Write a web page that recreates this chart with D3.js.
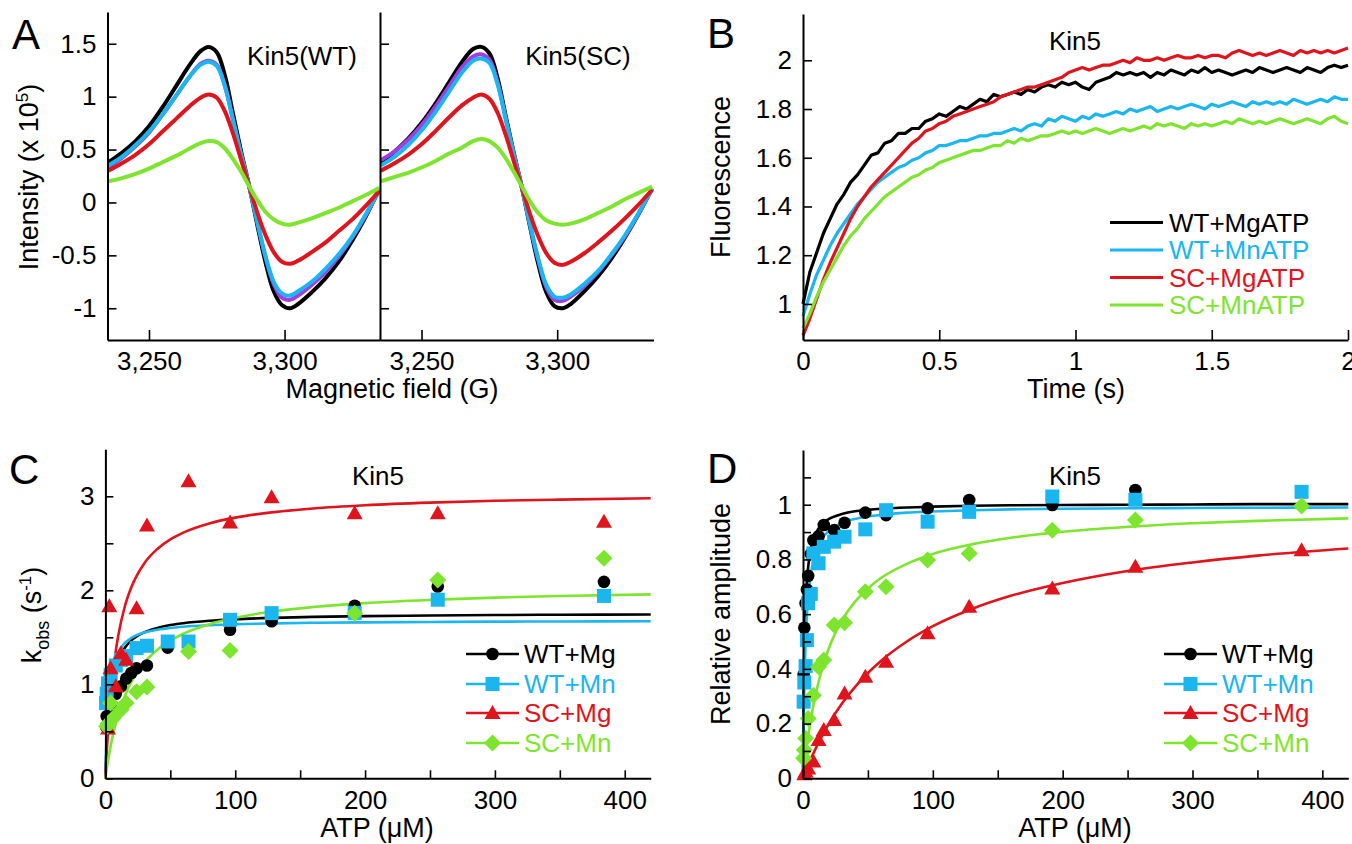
<!DOCTYPE html>
<html>
<head>
<meta charset="utf-8">
<script src="https://cdn.jsdelivr.net/npm/d3@7"></script>
<style>
  body { margin: 0; background: #fff; }
  svg { display: block; }
  text { font-family: "Liberation Sans", Arial, sans-serif; font-size: 26px; }
</style>
</head>
<body>
<svg id="fig" width="1352" height="844"></svg>
<script>
// ---------- colours ----------
var black = "#000000", cyan = "#1ab6ef", red = "#e0141c", green = "#7ee52e", purple = "#a23ee0";

// ---------- panel A : EPR spectra ----------
var fieldA = [3235, 3240, 3245, 3250, 3255, 3260, 3265, 3269, 3272, 3275, 3278, 3281, 3284, 3287, 3290, 3293, 3296, 3299, 3302, 3305, 3310, 3315, 3320, 3325, 3330, 3335];
var wtBlack  = [0.38, 0.47, 0.58, 0.72, 0.90, 1.10, 1.30, 1.43, 1.47, 1.42, 1.20, 0.84, 0.48, 0.15, -0.22, -0.57, -0.84, -0.97, -1.00, -0.96, -0.85, -0.72, -0.56, -0.36, -0.13, 0.13];
var wtPurple = [0.33, 0.42, 0.53, 0.66, 0.83, 1.01, 1.19, 1.31, 1.34, 1.30, 1.10, 0.78, 0.45, 0.15, -0.19, -0.52, -0.77, -0.90, -0.92, -0.88, -0.78, -0.66, -0.51, -0.33, -0.12, 0.12];
var wtCyan   = [0.35, 0.43, 0.54, 0.67, 0.83, 1.01, 1.19, 1.30, 1.33, 1.29, 1.10, 0.78, 0.45, 0.15, -0.19, -0.51, -0.75, -0.86, -0.88, -0.84, -0.75, -0.63, -0.49, -0.32, -0.11, 0.12];
var wtRed    = [0.30, 0.37, 0.45, 0.55, 0.67, 0.79, 0.91, 0.99, 1.02, 0.99, 0.86, 0.65, 0.40, 0.15, -0.10, -0.31, -0.47, -0.56, -0.58, -0.55, -0.47, -0.38, -0.27, -0.16, -0.03, 0.11];
var wtGreen  = [0.20, 0.23, 0.27, 0.32, 0.38, 0.44, 0.51, 0.56, 0.58, 0.57, 0.51, 0.41, 0.29, 0.15, 0.02, -0.09, -0.16, -0.20, -0.21, -0.19, -0.15, -0.10, -0.05, 0.01, 0.07, 0.14];
var scBlack  = [0.38, 0.48, 0.60, 0.75, 0.93, 1.13, 1.33, 1.45, 1.47, 1.41, 1.18, 0.82, 0.47, 0.14, -0.23, -0.58, -0.85, -0.98, -1.00, -0.96, -0.84, -0.70, -0.53, -0.33, -0.11, 0.13];
var scPurple = [0.40, 0.48, 0.59, 0.73, 0.90, 1.09, 1.28, 1.38, 1.40, 1.35, 1.14, 0.80, 0.46, 0.14, -0.21, -0.54, -0.80, -0.92, -0.93, -0.89, -0.79, -0.66, -0.50, -0.32, -0.11, 0.13];
var scCyan   = [0.35, 0.43, 0.54, 0.68, 0.85, 1.04, 1.23, 1.34, 1.36, 1.32, 1.12, 0.79, 0.45, 0.14, -0.21, -0.53, -0.78, -0.89, -0.90, -0.87, -0.77, -0.65, -0.49, -0.31, -0.10, 0.13];
var scRed    = [0.30, 0.37, 0.45, 0.55, 0.67, 0.80, 0.92, 0.99, 1.02, 0.98, 0.85, 0.64, 0.39, 0.14, -0.11, -0.32, -0.48, -0.57, -0.59, -0.56, -0.48, -0.38, -0.27, -0.15, -0.02, 0.12];
var scGreen  = [0.20, 0.24, 0.28, 0.33, 0.39, 0.46, 0.52, 0.58, 0.60, 0.58, 0.52, 0.42, 0.29, 0.15, 0.01, -0.10, -0.17, -0.20, -0.21, -0.20, -0.16, -0.10, -0.04, 0.03, 0.09, 0.15];

// ---------- panel B : stopped-flow traces (one value every 0.025 s) ----------
var traceStep = 0.025;
var bWtMg = [1.00, 1.13, 1.21, 1.29, 1.35, 1.41, 1.45, 1.50, 1.53, 1.57,
             1.61, 1.62, 1.66, 1.67, 1.70, 1.70, 1.72, 1.72, 1.75, 1.76,
             1.78, 1.77, 1.79, 1.81, 1.80, 1.82, 1.84, 1.83, 1.86, 1.85,
             1.86, 1.87, 1.86, 1.88, 1.87, 1.89, 1.90, 1.89, 1.91, 1.90,
             1.91, 1.89, 1.88, 1.91, 1.92, 1.93, 1.95, 1.94, 1.95, 1.94,
             1.95, 1.93, 1.95, 1.94, 1.96, 1.95, 1.94, 1.96, 1.95, 1.97,
             1.95, 1.96, 1.95, 1.94, 1.95, 1.96, 1.95, 1.97, 1.96, 1.95,
             1.96, 1.97, 1.96, 1.95, 1.97, 1.96, 1.95, 1.97, 1.98, 1.97,
             1.98];
var bWtMn = [0.95, 1.04, 1.12, 1.18, 1.24, 1.29, 1.33, 1.37, 1.41, 1.44,
             1.47, 1.50, 1.52, 1.54, 1.56, 1.57, 1.59, 1.60, 1.62, 1.63,
             1.65, 1.65, 1.66, 1.67, 1.67, 1.68, 1.69, 1.69, 1.70, 1.70,
             1.71, 1.72, 1.71, 1.73, 1.74, 1.73, 1.76, 1.75, 1.77, 1.76,
             1.75, 1.77, 1.76, 1.78, 1.77, 1.78, 1.79, 1.78, 1.80, 1.79,
             1.80, 1.81, 1.79, 1.80, 1.81, 1.80, 1.81, 1.82, 1.81, 1.80,
             1.82, 1.81, 1.82, 1.83, 1.82, 1.81, 1.83, 1.82, 1.83, 1.82,
             1.83, 1.82, 1.84, 1.83, 1.82, 1.83, 1.84, 1.83, 1.85, 1.84,
             1.84];
var bScMg = [0.87, 0.94, 1.02, 1.10, 1.17, 1.23, 1.29, 1.35, 1.40, 1.44,
             1.48, 1.51, 1.54, 1.57, 1.60, 1.63, 1.66, 1.68, 1.71, 1.72,
             1.74, 1.75, 1.77, 1.78, 1.79, 1.80, 1.81, 1.82, 1.83, 1.85,
             1.86, 1.87, 1.88, 1.89, 1.89, 1.90, 1.91, 1.92, 1.93, 1.95,
             1.96, 1.97, 1.96, 1.97, 1.98, 1.98, 1.99, 2.00, 1.99, 2.01,
             2.00, 2.00, 2.01, 2.00, 2.01, 2.02, 2.01, 2.01, 2.02, 2.01,
             2.02, 2.02, 2.01, 2.03, 2.04, 2.03, 2.02, 2.03, 2.02, 2.03,
             2.04, 2.03, 2.02, 2.04, 2.03, 2.04, 2.03, 2.04, 2.03, 2.04,
             2.05];
var bScMn = [0.90, 0.96, 1.03, 1.09, 1.14, 1.19, 1.24, 1.28, 1.31, 1.35,
             1.38, 1.41, 1.44, 1.46, 1.48, 1.50, 1.52, 1.53, 1.55, 1.56,
             1.58, 1.59, 1.60, 1.61, 1.62, 1.63, 1.63, 1.64, 1.65, 1.65,
             1.67, 1.66, 1.68, 1.67, 1.68, 1.69, 1.69, 1.70, 1.71, 1.70,
             1.71, 1.70, 1.71, 1.72, 1.71, 1.70, 1.71, 1.72, 1.71, 1.72,
             1.73, 1.72, 1.74, 1.73, 1.74, 1.73, 1.72, 1.74, 1.73, 1.74,
             1.73, 1.74, 1.75, 1.74, 1.76, 1.75, 1.74, 1.75, 1.74, 1.75,
             1.76, 1.75, 1.74, 1.75, 1.76, 1.75, 1.74, 1.76, 1.77, 1.75,
             1.74];

// ---------- panel C : kobs vs ATP ----------
var cWtMgX = [0.5, 1, 4, 8, 12, 16, 20, 24, 32, 48, 96, 128, 192, 256, 384];
var cWtMgY = [0.55, 0.66, 0.76, 0.90, 0.98, 1.06, 1.12, 1.17, 1.20, 1.39, 1.58, 1.67, 1.835, 2.04, 2.09];
var cWtMnX = [0.5, 1, 2, 4, 8, 12, 16, 24, 32, 48, 64, 96, 128, 192, 256, 384];
var cWtMnY = [0.80, 0.90, 1.01, 1.10, 1.20, 1.26, 1.30, 1.385, 1.41, 1.455, 1.455, 1.686, 1.757, 1.76, 1.90, 1.94];
var cScMgX = [2, 3, 4, 8, 12, 16, 24, 32, 64, 96, 128, 192, 256, 384];
var cScMgY = [0.53, 1.83, 1.17, 0.98, 1.33, 1.26, 1.81, 2.69, 3.16, 2.72, 2.99, 2.82, 2.82, 2.73];
var cScMnX = [1, 2, 4, 6, 12, 16, 24, 32, 64, 96, 192, 256, 384];
var cScMnY = [0.55, 0.58, 0.80, 0.64, 0.73, 0.80, 0.92, 0.97, 1.35, 1.36, 1.757, 2.11, 2.34];

// fitted curves
var fitX    = [0, 0.5, 1, 2, 3, 4, 6, 8, 10, 15, 20, 30, 40, 50, 60, 80, 100, 130, 160, 200, 250, 300, 350, 420];
var cFitWtMg = [0, 0.196, 0.352, 0.587, 0.754, 0.88, 1.056, 1.173, 1.257, 1.389, 1.467, 1.553, 1.60, 1.63, 1.65, 1.676, 1.692, 1.707, 1.717, 1.725, 1.732, 1.737, 1.74, 1.743];
var cFitWtMn = [0, 0.28, 0.48, 0.747, 0.916, 1.034, 1.186, 1.28, 1.344, 1.44, 1.493, 1.551, 1.581, 1.60, 1.613, 1.629, 1.639, 1.648, 1.654, 1.659, 1.663, 1.667, 1.668, 1.67];
var cFitScMg = [0, 0.145, 0.277, 0.508, 0.704, 0.871, 1.144, 1.356, 1.525, 1.83, 2.033, 2.288, 2.44, 2.542, 2.614, 2.711, 2.773, 2.832, 2.871, 2.905, 2.933, 2.952, 2.965, 2.979];
var cFitScMn = [0, 0.05, 0.098, 0.186, 0.267, 0.342, 0.473, 0.586, 0.683, 0.879, 1.025, 1.23, 1.367, 1.464, 1.538, 1.64, 1.708, 1.777, 1.822, 1.864, 1.898, 1.922, 1.939, 1.957];

// ---------- panel D : relative amplitude vs ATP ----------
var dWtMgX = [0.5, 1, 2, 3, 4, 6, 8, 12, 16, 24, 32, 48, 64, 96, 128, 192, 256];
var dWtMgY = [0.38, 0.55, 0.64, 0.69, 0.74, 0.82, 0.87, 0.885, 0.926, 0.907, 0.934, 0.971, 0.962, 0.987, 1.017, 0.999, 1.054];
var dWtMnX = [0.5, 1, 2, 3, 4, 6, 8, 12, 16, 24, 32, 48, 64, 96, 128, 192, 256, 384];
var dWtMnY = [0.28, 0.35, 0.41, 0.505, 0.64, 0.674, 0.822, 0.786, 0.846, 0.865, 0.883, 0.91, 0.98, 0.938, 0.974, 1.03, 1.018, 1.047];
var dScMgX = [1, 2, 4, 8, 12, 16, 24, 32, 48, 64, 96, 128, 192, 256, 384];
var dScMgY = [0.015, 0.025, 0.036, 0.061, 0.14, 0.177, 0.213, 0.31, 0.371, 0.426, 0.53, 0.627, 0.694, 0.773, 0.834];
var dScMnX = [0.5, 1, 2, 4, 8, 12, 16, 24, 32, 48, 64, 96, 128, 192, 256, 384];
var dScMnY = [0.073, 0.103, 0.146, 0.219, 0.304, 0.408, 0.432, 0.56, 0.569, 0.682, 0.70, 0.798, 0.822, 0.907, 0.944, 0.995];

var dFitWtMg = [0, 0.296, 0.457, 0.628, 0.718, 0.773, 0.838, 0.874, 0.897, 0.93, 0.948, 0.966, 0.976, 0.981, 0.985, 0.99, 0.993, 0.996, 0.998, 0.999, 1.0, 1.001, 1.002, 1.002];
var dFitWtMn = [0, 0.199, 0.332, 0.498, 0.597, 0.663, 0.746, 0.796, 0.829, 0.878, 0.905, 0.933, 0.948, 0.957, 0.963, 0.971, 0.975, 0.98, 0.983, 0.985, 0.987, 0.988, 0.989, 0.99];
var dFitScMg = [0, 0.006, 0.012, 0.024, 0.036, 0.048, 0.07, 0.091, 0.111, 0.158, 0.2, 0.273, 0.333, 0.385, 0.429, 0.5, 0.556, 0.619, 0.667, 0.714, 0.758, 0.789, 0.814, 0.84];
var dFitScMn = [0, 0.022, 0.043, 0.083, 0.12, 0.154, 0.214, 0.267, 0.3125, 0.405, 0.476, 0.577, 0.645, 0.694, 0.732, 0.784, 0.82, 0.855, 0.879, 0.901, 0.919, 0.932, 0.941, 0.95];

var legendB = ["WT+MgATP", "WT+MnATP", "SC+MgATP", "SC+MnATP"];
var legendCD = ["WT+Mg", "WT+Mn", "SC+Mg", "SC+Mn"];

var svg = d3.select("#fig");
svg.append("rect").attr("width", 1352).attr("height", 844).attr("fill", "#fff");

function styleAxis(g) {
  g.selectAll("path.domain").attr("stroke", "#000").attr("stroke-width", 2);
  g.selectAll(".tick line").attr("stroke", "#000").attr("stroke-width", 1.6);
  g.selectAll(".tick text").attr("fill", "#000").style("font-size", "26px")
    .style("font-family", "'Liberation Sans', Arial, sans-serif");
}
function numFmt(d) { return String(+d.toFixed(2)); }

function drawLine(g, xs, ys, x, y, color, width, curve) {
  var pts = xs.map(function(v, i) { return [v, ys[i]]; });
  g.append("path").datum(pts)
    .attr("fill", "none").attr("stroke", color).attr("stroke-width", width)
    .attr("stroke-linejoin", "round")
    .attr("d", d3.line().curve(curve || d3.curveLinear)
      .x(function(d) { return x(d[0]); }).y(function(d) { return y(d[1]); }));
}

function marker(g, type, cx, cy, color) {
  if (type === "circle") {
    g.append("circle").attr("cx", cx).attr("cy", cy).attr("r", 6.3).attr("fill", color);
  } else if (type === "square") {
    g.append("rect").attr("x", cx - 7).attr("y", cy - 7).attr("width", 14).attr("height", 14).attr("fill", color);
  } else if (type === "triangle") {
    g.append("path").attr("d", "M" + cx + "," + (cy - 8) + "L" + (cx + 8) + "," + (cy + 6) + "L" + (cx - 8) + "," + (cy + 6) + "Z").attr("fill", color);
  } else {
    g.append("path").attr("d", "M" + cx + "," + (cy - 8.5) + "L" + (cx + 8.5) + "," + cy + "L" + cx + "," + (cy + 8.5) + "L" + (cx - 8.5) + "," + cy + "Z").attr("fill", color);
  }
}

function label(txt, x, y, size, anchor, color) {
  return svg.append("text").attr("x", x).attr("y", y).attr("text-anchor", anchor || "start")
    .attr("fill", color || "#000").style("font-size", (size || 26) + "px").text(txt);
}

// ================= Panel A =================
var yA = d3.scaleLinear().domain([-1.3, 1.8]).range([340, 12]);
var xA1 = d3.scaleLinear().domain([3234.7, 3335.2]).range([107.5, 380]);
var xA2 = d3.scaleLinear().domain([3234.7, 3335.5]).range([380, 653.5]);
var aTicks = [-1, -0.5, 0, 0.5, 1, 1.5];

var gA = svg.append("g");
[[xA1, [wtBlack, wtPurple, wtCyan, wtRed, wtGreen]], [xA2, [scBlack, scPurple, scCyan, scRed, scGreen]]].forEach(function(p) {
  var cols = [black, purple, cyan, red, green];
  p[1].forEach(function(vals, i) {
    drawLine(gA, fieldA, vals, p[0], yA, cols[i], 4, d3.curveCatmullRom);
  });
});

svg.append("g").attr("transform", "translate(107.5,0)")
  .call(d3.axisLeft(yA).tickValues(aTicks).tickFormat(numFmt).tickSize(-9).tickSizeOuter(0).tickPadding(11))
  .call(styleAxis);
svg.append("g").attr("transform", "translate(380,0)")
  .call(d3.axisLeft(yA).tickValues(aTicks).tickFormat("").tickSize(-9).tickSizeOuter(0))
  .call(styleAxis);
svg.append("g").attr("transform", "translate(0,340)")
  .call(d3.axisBottom(xA1).tickValues([3250, 3300]).tickFormat(d3.format(",")).tickSize(-10).tickSizeOuter(0).tickPadding(12))
  .call(styleAxis);
svg.append("g").attr("transform", "translate(0,340)")
  .call(d3.axisBottom(xA2).tickValues([3250, 3300]).tickFormat(d3.format(",")).tickSize(-10).tickSizeOuter(0).tickPadding(12))
  .call(styleAxis);

label("A", 12, 49, 42);
label("Kin5(WT)", 302, 65, 26, "middle");
label("Kin5(SC)", 578, 65, 26, "middle");
label("Magnetic field (G)", 392, 398, 27, "middle");
var tA = svg.append("text").attr("transform", "translate(38,177) rotate(-90)").attr("text-anchor", "middle").style("font-size", "27px");
tA.append("tspan").text("Intensity (x 10");
tA.append("tspan").attr("dy", -10).style("font-size", "17px").text("5");
tA.append("tspan").attr("dy", 10).text(")");

// ================= Panel B =================
var xB = d3.scaleLinear().domain([0, 2]).range([803, 1348]);
var yB = d3.scaleLinear().domain([0.852, 2.19]).range([340, 14]);
var timeB = bWtMg.map(function(v, i) { return i * traceStep; });
var gB = svg.append("g");
[[bWtMg, black], [bWtMn, cyan], [bScMg, red], [bScMn, green]].forEach(function(s) {
  drawLine(gB, timeB, s[0], xB, yB, s[1], 3.2);
});
svg.append("g").attr("transform", "translate(803,0)")
  .call(d3.axisLeft(yB).tickValues([1, 1.2, 1.4, 1.6, 1.8, 2]).tickFormat(numFmt).tickSize(-9).tickSizeOuter(0).tickPadding(11))
  .call(styleAxis);
svg.append("g").attr("transform", "translate(0,340)")
  .call(d3.axisBottom(xB).tickValues([0, 0.5, 1, 1.5, 2]).tickFormat(numFmt).tickSize(-10).tickSizeOuter(0).tickPadding(12))
  .call(styleAxis);

label("B", 707, 48, 42);
label("Kin5", 1075, 50, 26, "middle");
label("Time (s)", 1076, 398, 27, "middle");
svg.append("text").attr("transform", "translate(730,177) rotate(-90)").attr("text-anchor", "middle").style("font-size", "27px").text("Fluorescence");

var legB = svg.append("g");
[black, cyan, red, green].forEach(function(c, i) {
  var yy = 222.5 + i * 27.5;
  legB.append("line").attr("x1", 1110).attr("x2", 1163).attr("y1", yy).attr("y2", yy).attr("stroke", c).attr("stroke-width", 3);
  legB.append("text").attr("x", 1169).attr("y", yy + 9).attr("fill", c).style("font-size", "26px").text(legendB[i]);
});

// ================= Panel C & D helper =================
function atpPanel(x0, yScale, yTicks, yLabelTicks, series, fits, legX) {
  var x = d3.scaleLinear().domain([0, 420]).range([x0, x0 + 545.3]);
  var g = svg.append("g");
  var cols = [black, cyan, red, green];
  fits.forEach(function(f, i) { drawLine(g, fitX, f, x, yScale, cols[i], 2.6, d3.curveMonotoneX); });
  var types = ["circle", "square", "triangle", "diamond"];
  series.forEach(function(s, i) {
    s[0].forEach(function(v, j) { marker(g, types[i], x(v), yScale(s[1][j]), cols[i]); });
  });
  svg.append("g").attr("transform", "translate(" + x0 + ",0)")
    .call(d3.axisLeft(yScale).tickValues(yTicks)
      .tickFormat(function(d) { return yLabelTicks.indexOf(d) >= 0 ? numFmt(d) : ""; })
      .tickSize(-8).tickSizeOuter(0).tickPadding(11))
    .call(styleAxis);
  svg.append("g").attr("transform", "translate(0,778.3)")
    .call(d3.axisBottom(x).tickValues([0, 50, 100, 150, 200, 250, 300, 350, 400])
      .tickFormat(function(d) { return d % 100 === 0 ? String(d) : ""; })
      .tickSize(-8).tickSizeOuter(0).tickPadding(12))
    .call(styleAxis);
  // legend
  var rows = [654, 684, 713, 743];
  cols.forEach(function(c, i) {
    g.append("line").attr("x1", legX).attr("x2", legX + 53).attr("y1", rows[i]).attr("y2", rows[i]).attr("stroke", c).attr("stroke-width", 2.6);
    marker(g, types[i], legX + 26.5, rows[i], c);
    g.append("text").attr("x", legX + 58).attr("y", rows[i] + 9).attr("fill", c).style("font-size", "26px").text(legendCD[i]);
  });
  return x;
}

// ================= Panel C =================
var yC = d3.scaleLinear().domain([0, 3.5]).range([778.3, 449.3]);
atpPanel(105.4, yC, [0, 0.5, 1, 1.5, 2, 2.5, 3], [0, 1, 2, 3],
  [[cWtMgX, cWtMgY], [cWtMnX, cWtMnY], [cScMgX, cScMgY], [cScMnX, cScMnY]],
  [cFitWtMg, cFitWtMn, cFitScMg, cFitScMn], 466);
label("C", 9, 484, 42);
label("Kin5", 378, 485, 26, "middle");
var atpC = label("ATP (", 377, 837, 27, "middle");
atpC.append("tspan").text("\u03bcM)");
var tC = svg.append("text").attr("transform", "translate(41,615) rotate(-90)").attr("text-anchor", "middle").style("font-size", "27px");
tC.append("tspan").text("k");
tC.append("tspan").attr("dy", 8).style("font-size", "18px").text("obs");
tC.append("tspan").attr("dy", -8).text(" (s");
tC.append("tspan").attr("dy", -10).style("font-size", "17px").text("-1");
tC.append("tspan").attr("dy", 10).text(")");

// ================= Panel D =================
var yD = d3.scaleLinear().domain([0, 1.2]).range([778.3, 450]);
atpPanel(803, yD, [0, 0.1, 0.2, 0.3, 0.4, 0.5, 0.6, 0.7, 0.8, 0.9, 1, 1.1], [0, 0.2, 0.4, 0.6, 0.8, 1],
  [[dWtMgX, dWtMgY], [dWtMnX, dWtMnY], [dScMgX, dScMgY], [dScMnX, dScMnY]],
  [dFitWtMg, dFitWtMn, dFitScMg, dFitScMn], 1164);
label("D", 707, 483, 42);
label("Kin5", 1075, 485, 26, "middle");
var atpD = label("ATP (", 1075, 837, 27, "middle");
atpD.append("tspan").text("\u03bcM)");
svg.append("text").attr("transform", "translate(730,614) rotate(-90)").attr("text-anchor", "middle").style("font-size", "27px").text("Relative amplitude");
</script>
</body>
</html>
